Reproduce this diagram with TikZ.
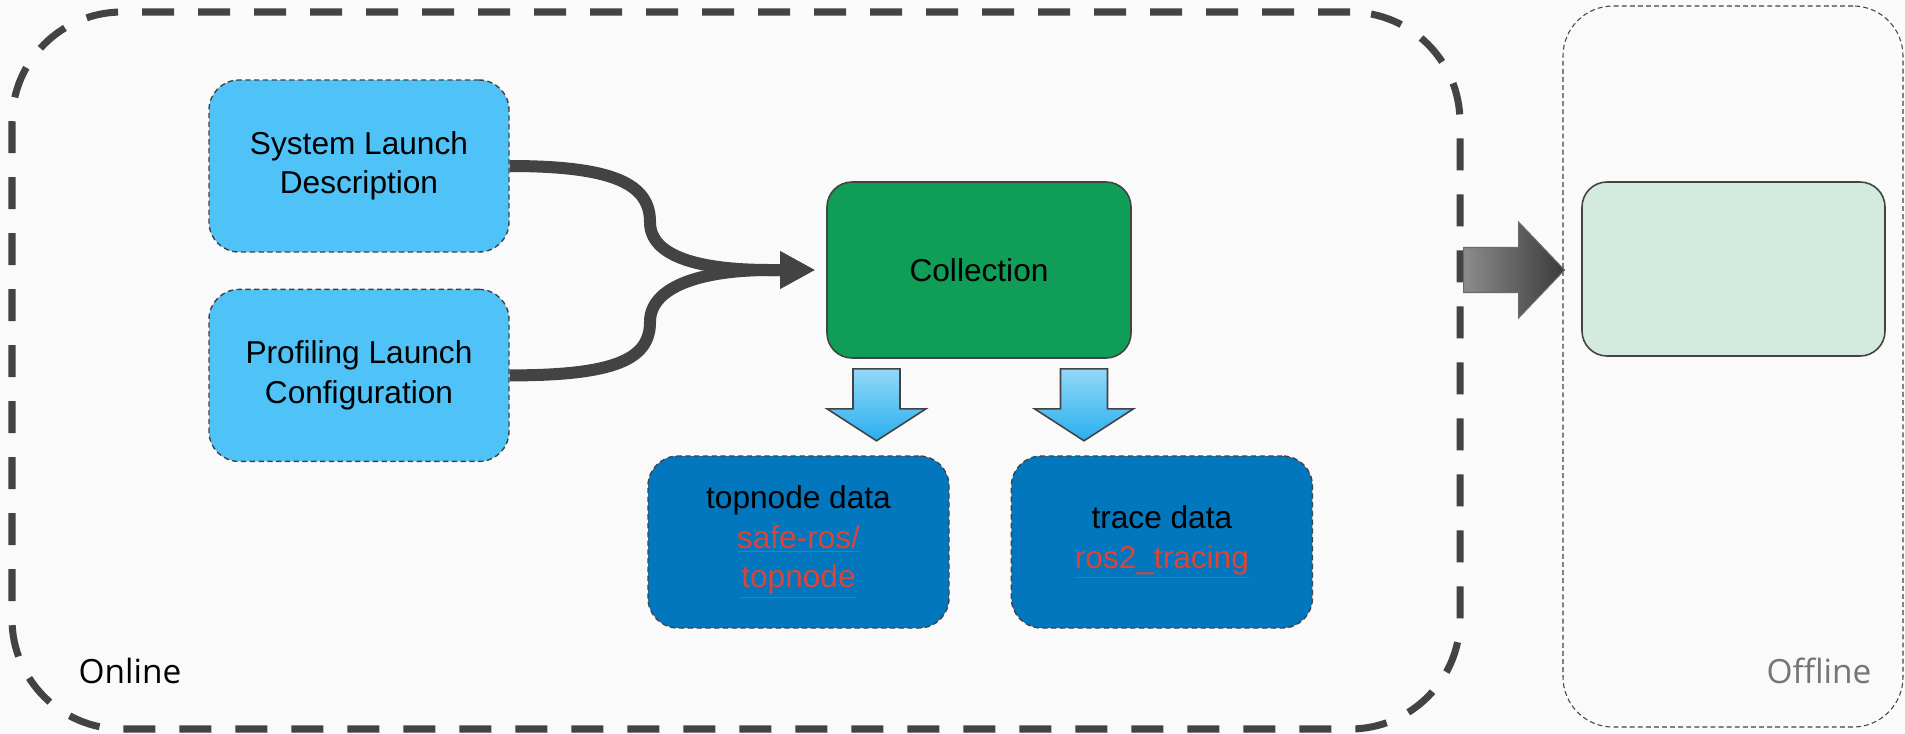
\documentclass[tikz,border=0pt]{standalone}
\usepackage{fontspec}
\setmainfont{Liberation Sans}
\newfontfamily\regionfont{Open Sans}
\usetikzlibrary{arrows.meta,positioning,calc}
\definecolor{bgpaper}{HTML}{FAFAFA}
\definecolor{edgegray}{HTML}{434343}
\definecolor{launchblue}{HTML}{4FC3F7}
\definecolor{collgreen}{HTML}{0F9D58}
\definecolor{datablue}{HTML}{0277BD}
\definecolor{postgreen}{RGB}{211,235,223}
\definecolor{linkred}{HTML}{DB4437}
\definecolor{offgray}{HTML}{757575}
\definecolor{dnlight}{HTML}{92D9F9}
\definecolor{dndark}{HTML}{2AAEEE}
\definecolor{arrlight}{HTML}{8C8C8C}
\definecolor{arrdark}{HTML}{3A3A3A}
\newcommand\diagfont{\fontsize{18}{22.5}\selectfont}
\newcommand\linktxt[1]{{\color{linkred}\underline{#1}}}
\tikzset{
  launch/.style={draw=edgegray, fill=launchblue, dash pattern=on 3pt off 2pt, line width=0.8pt,
                 rounded corners=0.6cm, minimum width=6cm, minimum height=3.44cm,
                 align=center, font=\diagfont},
  store/.style={launch, fill=datablue, minimum width=6.02cm},
  stage/.style={draw=edgegray, fill=collgreen, line width=0.9pt, rounded corners=0.5cm,
                minimum width=6.08cm, minimum height=3.52cm, font=\diagfont},
  poststage/.style={stage, fill=postgreen, minimum width=6.06cm, minimum height=3.48cm},
  onlinereg/.style={draw=edgegray, line width=4pt, dash pattern=on 0.64cm off 0.48cm,
                    rounded corners=2.2cm, minimum width=28.96cm, minimum height=14.34cm},
  offlinereg/.style={draw=edgegray, line width=0.6pt, dash pattern=on 2.8pt off 1.8pt,
                     rounded corners=1.0cm, minimum width=6.8cm, minimum height=14.42cm},
  feed/.style={draw=edgegray, line width=0.24cm, -{Triangle[length=0.7cm,width=0.7cm]}},
  dnarr/.style={draw=edgegray, line width=0.9pt, top color=dnlight, bottom color=dndark},
  bigarr/.style={draw=edgegray!80, line width=0.6pt, left color=arrlight, right color=arrdark},
  reglab/.style={font=\regionfont\fontsize{19}{23}\selectfont},
}

\begin{document}
\begin{tikzpicture}
  \fill[bgpaper] (0,0) rectangle (38.1,-14.66);
  \useasboundingbox (0,0) rectangle (38.1,-14.66);

  % regions
  \node[onlinereg] (onl) at (14.72,-7.41) {};
  \node[offlinereg] (off) at (34.66,-7.33) {};
  \node[reglab, anchor=west] (onlab) at (1.45,-13.42) {Online};
  \node[reglab, text=offgray, anchor=east] (offlab) at (37.55,-13.42) {Offline};

  % online blocks
  \node[launch] (sld) at (7.18,-3.32) {System Launch\\Description};
  \node[launch, below=0.72cm of sld] (plc) {Profiling Launch\\Configuration};
  \node[stage] (coll) at (19.58,-5.40) {Collection};
  \node[store] (topn) at (15.97,-10.84) {topnode data\\\linktxt{safe-ros/}\\\linktxt{topnode}};
  \node[store, right=1.22cm of topn] (trc) {trace data\\\linktxt{ros2\_tracing}};

  % offline block
  \node[poststage] (post) at (34.67,-5.38) {};

  % merging inputs
  \coordinate (bendA) at (13.0,-4.44);
  \coordinate (bendB) at (13.0,-6.44);
  \coordinate (tipC) at ([xshift=-0.22cm]coll.west);
  \draw[feed] (sld.east) .. controls +(2.1,0) and +(0,0.75) .. (bendA)
              .. controls +(0,-0.7) and +(-1.4,0) .. ([xshift=-0.9cm]tipC) -- (tipC);
  \draw[feed] (plc.east) .. controls +(2.1,0) and +(0,-0.75) .. (bendB)
              .. controls +(0,0.7) and +(-1.4,0) .. ([xshift=-0.9cm]tipC) -- (tipC);

  % outputs of collection
  \coordinate (dnA) at ([xshift=-2.05cm,yshift=-0.2cm]coll.south);
  \coordinate (dnB) at ([xshift=2.1cm,yshift=-0.2cm]coll.south);
  \foreach \c in {dnA,dnB}{
    \draw[dnarr] (\c) ++(-0.47,0) -- ++(0.94,0) -- ++(0,-0.8) -- ++(0.52,0)
                 -- ++(-0.99,-0.64) -- ++(-0.99,0.64) -- ++(0.52,0) -- cycle;
  }

  % online -> offline
  \coordinate (hand) at (onl.east |- coll.east);
  \draw[bigarr] (hand) ++(0,0.45) -- ++(1.1,0) -- ++(0,0.51) -- ++(0.92,-0.96)
                -- ++(-0.92,-0.96) -- ++(0,0.51) -- ++(-1.1,0) -- cycle;
\end{tikzpicture}
\end{document}
